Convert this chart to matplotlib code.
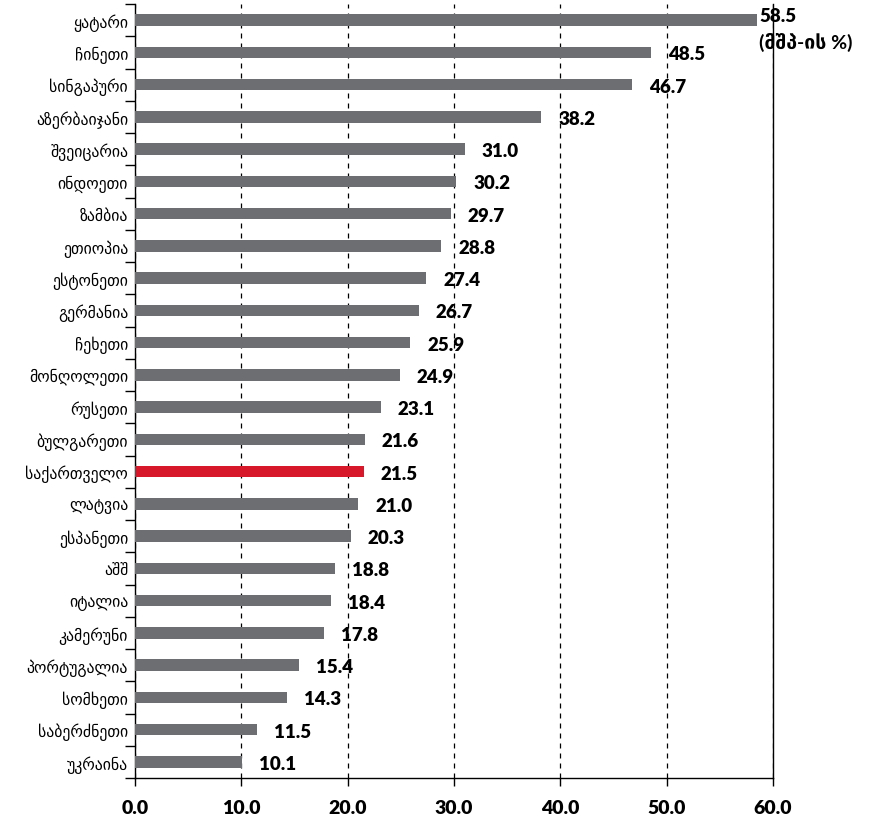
import matplotlib
matplotlib.use("Agg")
import matplotlib.pyplot as plt
import numpy as np

##
## Data (top to bottom)
##
countries = ["ყატარი", "ჩინეთი", "სინგაპური", "აზერბაიჯანი", "შვეიცარია",
             "ინდოეთი", "ზამბია", "ეთიოპია", "ესტონეთი", "გერმანია",
             "ჩეხეთი", "მონღოლეთი", "რუსეთი", "ბულგარეთი", "საქართველო",
             "ლატვია", "ესპანეთი", "აშშ", "იტალია", "კამერუნი",
             "პორტუგალია", "სომხეთი", "საბერძნეთი", "უკრაინა"]
values = [58.5, 48.5, 46.7, 38.2, 31.0, 30.2, 29.7, 28.8, 27.4, 26.7,
          25.9, 24.9, 23.1, 21.6, 21.5, 21.0, 20.3, 18.8, 18.4, 17.8,
          15.4, 14.3, 11.5, 10.1]
highlight = "საქართველო"
x_ticks = [0, 10, 20, 30, 40, 50, 60]

gray = "#6d6e71"
red = "#d7182a"
num_font = ["Lato", "DejaVu Sans"]

fig = plt.figure(figsize=(8.71, 8.2), dpi=100)
ax = fig.add_axes([135/871, 1-779/820, (773-135)/871, (779-5)/820])

y = np.arange(len(countries))
colors = [red if c == highlight else gray for c in countries]
ax.barh(y, values, height=0.36, color=colors, zorder=3)

ax.set_ylim(len(countries) - 0.5, -0.5)
ax.set_xlim(0, 60)

# value labels
for yi, v in zip(y, values):
    if v < 58:
        ax.text(v + 1.6, yi + 0.05, f"{v:.1f}", va="center", ha="left",
                fontsize=13.5, fontweight="heavy", family=num_font, zorder=4)
    else:
        ax.text(v + 0.2, yi - 0.15, f"{v:.1f}", va="center", ha="left",
                fontsize=13.5, fontweight="heavy", family=num_font, zorder=4)
ax.text(values[0] + 0.2, 0.38, "(მშპ-ის %)", va="top", ha="left",
        fontsize=14, fontweight="bold", family=num_font)

# y axis: labels at centres, ticks between categories
ax.set_yticks(y)
ax.set_yticklabels(countries, fontsize=11.3)
ax.tick_params(axis="y", which="major", length=0, pad=5)
ax.set_yticks(np.arange(-0.5, len(countries)), minor=True)
ax.tick_params(axis="y", which="minor", length=7, width=1)

ax.set_xticks(x_ticks)
ax.set_xticklabels([f"{t:.1f}" for t in x_ticks], fontsize=14,
                   fontweight="heavy", family=num_font)
ax.tick_params(axis="x", length=6, width=1, pad=9)

ax.xaxis.grid(True, linestyle=(0, (4, 4)), color="black", linewidth=0.9, zorder=0)
ax.set_axisbelow(True)

for side in ["left", "bottom", "right"]:
    ax.spines[side].set_color("black")
    ax.spines[side].set_linewidth(1)
ax.spines["top"].set_visible(False)

fig.savefig("out.png", dpi=100)
